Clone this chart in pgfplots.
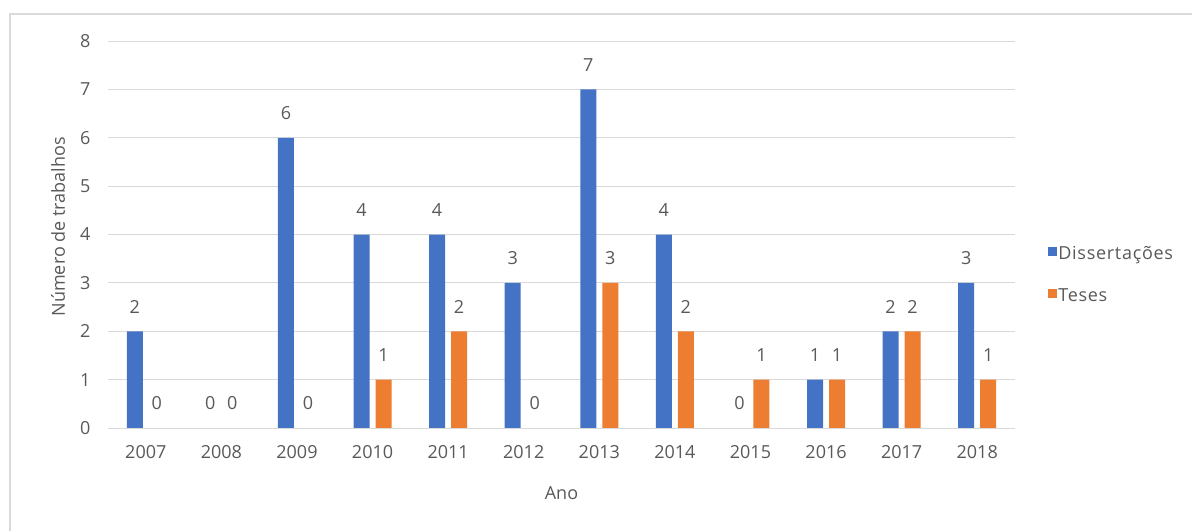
\documentclass[border=0pt]{standalone}
\usepackage{fontspec}
\setmainfont{Open Sans}
\newfontfamily\legfont[LetterSpace=4]{Open Sans}
\usepackage{pgfplots}
\pgfplotsset{compat=1.18}
\definecolor{cblue}{HTML}{4472C4}
\definecolor{corange}{HTML}{ED7D31}
\definecolor{cgrid}{HTML}{D9D9D9}
\definecolor{ctext}{HTML}{595959}
\begin{document}
\begin{tikzpicture}
\path[use as bounding box] (0,0) rectangle (1192bp,531bp);
\draw[cgrid, line width=1.5bp] (10bp,0) -- (10bp,517bp) -- (1192bp,517bp);
\begin{axis}[
  at={(108bp,103bp)}, anchor=south west,
  scale only axis, width=907bp, height=387bp,
  ybar=6bp, bar width=16bp,
  xmin=-0.5, xmax=11.5, ymin=0, ymax=8,
  xtick={0,...,11},
  xticklabels={2007,2008,2009,2010,2011,2012,2013,2014,2015,2016,2017,2018},
  ytick={0,...,8},
  ymajorgrids, grid style={cgrid, line width=1bp},
  axis line style={draw=none},
  major tick length=0pt,
  tick label style={font=\fontsize{18bp}{21bp}\selectfont, text=ctext},
  /pgf/number format/assume math mode=true,
  yticklabel style={xshift=-14bp},
  xticklabel style={yshift=-14bp},
  ylabel={Número de trabalhos},
  xlabel={Ano},
  label style={font=\fontsize{18bp}{21bp}\selectfont, text=ctext},
  ylabel style={at={(rel axis cs:-0.0551,0.52)}, anchor=center},
  xlabel style={at={(rel axis cs:0.5,-0.168)}, anchor=center},
  nodes near coords,
  nodes near coords style={font=\fontsize{18bp}{21bp}\selectfont, text=ctext, inner sep=0pt, anchor=south, yshift=18bp},
  legend style={at={(1.036,0.3928)}, anchor=west, draw=none, fill=none,
    font=\legfont\fontsize{18bp}{21bp}\selectfont, text=ctext, row sep=22bp, inner sep=0pt,
    nodes={inner sep=1.5bp, text height=13bp, text depth=4bp}},
  legend cell align=left,
  legend image code/.code={\fill[#1] (0bp,-1bp) rectangle (9bp,8bp);},
]
\addplot[fill=cblue, draw=none] coordinates {(0,2) (1,0) (2,6) (3,4) (4,4) (5,3) (6,7) (7,4) (8,0) (9,1) (10,2) (11,3)};
\addplot[fill=corange, draw=none] coordinates {(0,0) (1,0) (2,0) (3,1) (4,2) (5,0) (6,3) (7,2) (8,1) (9,1) (10,2) (11,1)};
\legend{Dissertações, Teses}
\end{axis}
\end{tikzpicture}
\end{document}
